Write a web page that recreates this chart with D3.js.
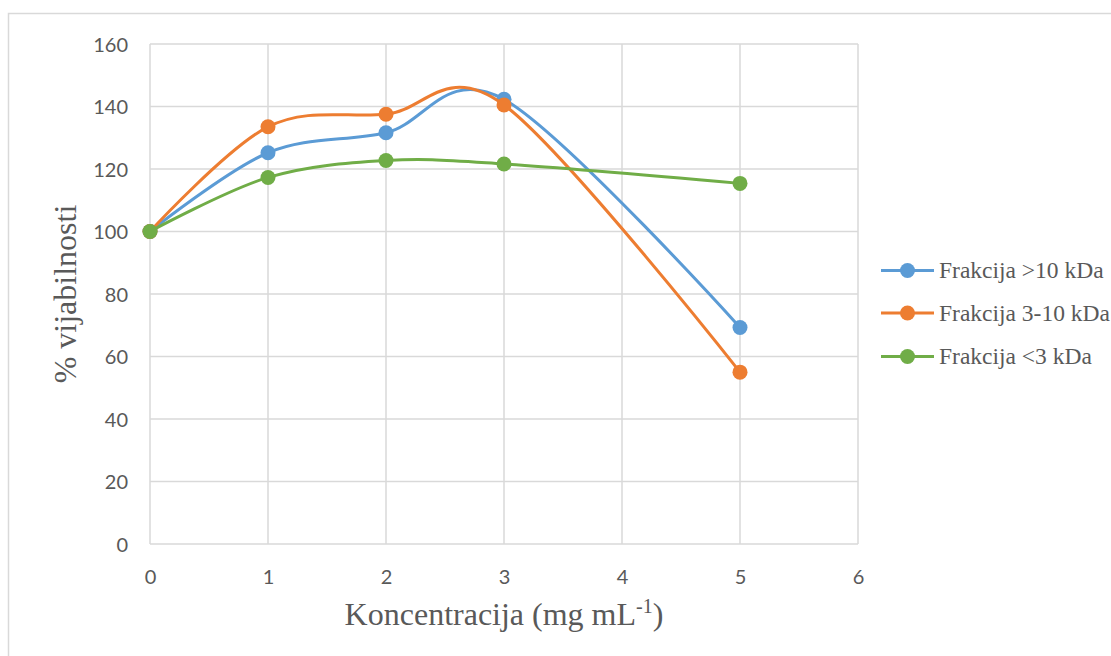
<!DOCTYPE html>
<html>
<head>
<meta charset="utf-8">
<script src="https://cdn.jsdelivr.net/npm/d3@7"></script>
<style>
  html, body { margin: 0; padding: 0; background: #fff; }
  svg { display: block; }
</style>
</head>
<body>
<svg id="chart" width="1111" height="656"></svg>
<script>
const concentrations = [0, 1, 2, 3, 5];
const seriesNames = ["Frakcija >10 kDa", "Frakcija 3-10 kDa", "Frakcija <3 kDa"];
const seriesColors = ["#5b9bd5", "#ed7d31", "#70ad47"];
const valuesGt10 = [100, 125.2, 131.6, 142.3, 69.3];
const values3to10 = [100, 133.5, 137.5, 140.5, 55.0];
const valuesLt3 = [100, 117.3, 122.7, 121.6, 115.4];
const xTicks = [0, 1, 2, 3, 4, 5, 6];
const yTicks = [0, 20, 40, 60, 80, 100, 120, 140, 160];

const allSeries = [valuesGt10, values3to10, valuesLt3];

(function () {
const svg = d3.select("#chart");
const grid = "#d9d9d9";
const txt = "#595959";

// outer chart border
svg.append("rect")
  .attr("x", 8.5).attr("y", 13.5)
  .attr("width", 1200).attr("height", 700)
  .attr("fill", "none").attr("stroke", grid).attr("stroke-width", 1.5);

const pl = 150, pr = 858, pt = 44, pb = 544;
const x = d3.scaleLinear().domain([0, 6]).range([pl, pr]);
const y = d3.scaleLinear().domain([0, 160]).range([pb, pt]);

// gridlines
const gv = svg.append("g");
gv.selectAll("line.v").data(xTicks).enter().append("line")
  .attr("class", "v")
  .attr("x1", d => x(d)).attr("x2", d => x(d))
  .attr("y1", pt).attr("y2", pb)
  .attr("stroke", grid).attr("stroke-width", 1.5);
gv.selectAll("line.h").data(yTicks).enter().append("line")
  .attr("class", "h")
  .attr("x1", pl).attr("x2", pr)
  .attr("y1", d => y(d)).attr("y2", d => y(d))
  .attr("stroke", grid).attr("stroke-width", 1.5);

const tickFont = "Lato, 'Open Sans', sans-serif";
// axes using d3 axes (labels only)
const xAxis = d3.axisBottom(x).tickValues(xTicks).tickSize(0).tickPadding(0).tickFormat(d3.format("d"));
const gx = svg.append("g").attr("transform", `translate(0,${pb + 33})`).call(xAxis);
gx.select(".domain").remove();
gx.selectAll("text").attr("fill", txt).style("font-family", tickFont).style("font-size", "20px").attr("dy", "0.35em");

const yAxis = d3.axisLeft(y).tickValues(yTicks).tickSize(0).tickPadding(0).tickFormat(d3.format("d"));
const gy = svg.append("g").attr("transform", `translate(${pl - 22},0)`).call(yAxis);
gy.select(".domain").remove();
gy.selectAll("text").attr("fill", txt).style("font-family", tickFont).style("font-size", "20px").attr("dy", "0.35em");

// axis titles
const serif = "'Liberation Serif', 'Times New Roman', serif";
const xt = svg.append("text")
  .attr("x", (pl + pr) / 2).attr("y", 625)
  .attr("text-anchor", "middle")
  .attr("fill", txt)
  .style("font-family", serif)
  .style("font-size", "32px");
xt.append("tspan").text("Koncentracija (mg mL");
xt.append("tspan").text("-1").attr("dy", -12).style("font-size", "20px");
xt.append("tspan").text(")").attr("dy", 12);

svg.append("text")
  .attr("transform", `translate(76,${(pt + pb) / 2}) rotate(-90)`)
  .attr("text-anchor", "middle")
  .attr("fill", txt)
  .style("font-family", serif)
  .style("font-size", "32px")
  .text("% vijabilnosti");

// lines
const line = d3.line()
  .x((d, i) => x(concentrations[i]))
  .y(d => y(d))
  .curve(d3.curveCardinal.tension(0));

allSeries.forEach((vals, si) => {
  const g = svg.append("g");
  g.append("path").datum(vals)
    .attr("d", line)
    .attr("fill", "none")
    .attr("stroke", seriesColors[si])
    .attr("stroke-width", 3)
    .attr("stroke-linecap", "round");
  g.selectAll("circle").data(vals).enter().append("circle")
    .attr("cx", (d, i) => x(concentrations[i]))
    .attr("cy", d => y(d))
    .attr("r", 7.5)
    .attr("fill", seriesColors[si]);
});

// legend
const legendY = [270.5, 313, 356.5];
seriesNames.forEach((name, i) => {
  const g = svg.append("g");
  g.append("line")
    .attr("x1", 881).attr("x2", 934)
    .attr("y1", legendY[i]).attr("y2", legendY[i])
    .attr("stroke", seriesColors[i]).attr("stroke-width", 3);
  g.append("circle")
    .attr("cx", 907.5).attr("cy", legendY[i]).attr("r", 7.5)
    .attr("fill", seriesColors[i]);
  g.append("text")
    .attr("x", 939).attr("y", legendY[i])
    .attr("dy", "0.33em")
    .attr("fill", txt)
    .style("font-family", serif)
    .style("font-size", "23.5px")
    .text(name);
});
})();
</script>
</body>
</html>
